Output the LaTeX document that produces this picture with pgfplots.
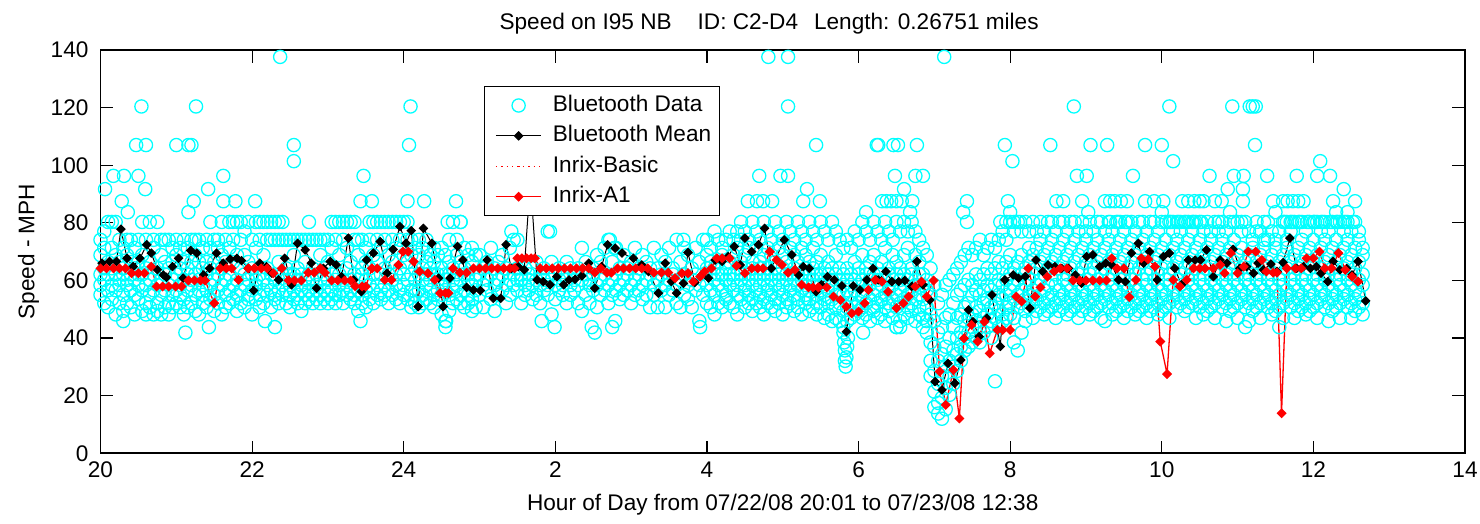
\documentclass[border=0pt]{standalone}
\usepackage{fontspec}
\setmainfont{Liberation Sans}
\usepackage{pgfplots}
\usepackage{pgfplotstable}
\pgfplotsset{compat=1.18}
\definecolor{btcyan}{RGB}{0,255,255}
\newcommand\ff{\fontsize{11.3}{13.5}\selectfont}

% Bluetooth travel-time speeds, evening 20-25 h
\pgfplotstableread{
t a b c d e
20.00 68.8 58.4 55.0 74.1 62.1
20.05 64.2 77.0 60.2 52.1 71.3
20.10 80.3 66.4 56.6 62.1 50.7
20.15 71.3 80.3 58.4 64.2 53.5
20.20 80.3 62.1 68.8 48.2 56.6
20.25 74.1 60.2 66.4 52.1 58.4
20.30 64.2 55.0 71.3 49.4 62.1
20.35 68.8 58.4 52.1 74.1 60.2
20.40 62.1 74.1 50.7 56.6 66.4
20.45 71.3 60.2 48.2 64.2 55.0
20.50 66.4 53.5 74.1 58.4 62.1
20.55 80.3 62.1 49.4 56.6 68.8
20.60 74.1 64.2 52.1 58.4 48.2
20.65 80.3 60.2 50.7 66.4 55.0
20.70 71.3 56.6 48.2 62.1 74.1
20.75 80.3 64.2 52.1 58.4 49.4
20.80 74.1 60.2 55.0 68.8 48.2
20.85 74.1 62.1 50.7 56.6 66.4
20.90 74.1 58.4 52.1 64.2 48.2
20.95 71.3 60.2 55.0 66.4 50.7
21.00 68.8 62.1 56.6 74.1 52.1
21.05 64.2 58.4 50.7 71.3 55.0
21.10 74.1 60.2 48.2 66.4 53.5
21.15 71.3 62.1 56.6 50.7 64.2
21.20 74.1 58.4 52.1 66.4 60.2
21.25 68.8 55.0 62.1 49.4 74.1
21.30 74.1 60.2 56.6 48.2 66.4
21.35 71.3 64.2 52.1 58.4 55.0
21.40 74.1 62.1 50.7 66.4 56.6
21.45 80.3 58.4 53.5 64.2 71.3
21.50 74.1 60.2 55.0 49.4 66.4
21.55 71.3 62.1 56.6 52.1 74.1
21.60 80.3 64.2 58.4 48.2 68.8
21.65 74.1 60.2 55.0 50.7 66.4
21.70 80.3 62.1 56.6 52.1 71.3
21.75 80.3 66.4 58.4 53.5 74.1
21.80 80.3 60.2 55.0 49.4 68.8
21.85 80.3 64.2 56.6 52.1 74.1
21.90 77.0 62.1 58.4 50.7 68.8
21.95 80.3 60.2 55.0 53.5 66.4
22.00 74.1 62.1 56.6 48.2 64.2
22.05 80.3 58.4 53.5 60.2 71.3
22.10 80.3 62.1 55.0 50.7 74.1
22.15 80.3 60.2 56.6 52.1 68.8
22.20 74.1 64.2 58.4 55.0 80.3
22.25 80.3 62.1 56.6 50.7 74.1
22.30 74.1 60.2 55.0 53.5 80.3
22.35 80.3 66.4 56.6 52.1 74.1
22.40 74.1 62.1 58.4 55.0 80.3
22.45 74.1 60.2 56.6 52.1 64.2
22.50 74.1 58.4 55.0 50.7 62.1
22.55 74.1 62.1 56.6 53.5 68.8
22.60 74.1 60.2 55.0 52.1 64.2
22.65 74.1 62.1 56.6 49.4 58.4
22.70 74.1 60.2 55.0 52.1 66.4
22.75 80.3 62.1 56.6 53.5 74.1
22.80 74.1 60.2 55.0 52.1 64.2
22.85 74.1 58.4 56.6 53.5 62.1
22.90 74.1 60.2 55.0 52.1 68.8
22.95 74.1 62.1 56.6 53.5 64.2
23.00 74.1 60.2 55.0 52.1 66.4
23.05 80.3 62.1 56.6 53.5 71.3
23.10 80.3 60.2 55.0 52.1 74.1
23.15 80.3 62.1 58.4 55.0 68.8
23.20 80.3 60.2 56.6 52.1 74.1
23.25 80.3 64.2 58.4 55.0 71.3
23.30 80.3 60.2 56.6 53.5 66.4
23.35 80.3 62.1 55.0 52.1 74.1
23.40 74.1 60.2 56.6 49.4 68.8
23.45 74.1 62.1 55.0 52.1 64.2
23.50 71.3 60.2 56.6 50.7 66.4
23.55 80.3 64.2 58.4 53.5 74.1
23.60 80.3 62.1 56.6 52.1 68.8
23.65 80.3 66.4 58.4 55.0 74.1
23.70 80.3 62.1 56.6 53.5 71.3
23.75 80.3 64.2 58.4 55.0 74.1
23.80 80.3 62.1 56.6 52.1 68.8
23.85 80.3 66.4 60.2 55.0 74.1
23.90 80.3 62.1 58.4 53.5 71.3
23.95 80.3 64.2 56.6 52.1 74.1
24.00 80.3 62.1 58.4 55.0 68.8
24.05 80.3 66.4 60.2 53.5 74.1
24.10 74.1 62.1 56.6 50.7 68.8
24.15 71.3 60.2 55.0 52.1 64.2
24.20 68.8 62.1 56.6 50.7 74.1
24.25 71.3 60.2 55.0 52.1 64.2
24.30 74.1 62.1 58.4 53.5 66.4
24.35 68.8 60.2 56.6 52.1 64.2
24.40 71.3 62.1 55.0 50.7 66.4
24.45 68.8 60.2 56.6 53.5 62.1
24.50 64.2 58.4 55.0 48.2 71.3
24.55 68.8 60.2 56.6 45.9 62.1
24.60 74.1 62.1 55.0 49.4 66.4
24.65 80.3 60.2 56.6 52.1 64.2
24.70 74.1 62.1 58.4 53.5 68.8
24.75 80.3 60.2 55.0 52.1 66.4
24.80 71.3 62.1 56.6 50.7 64.2
24.85 68.8 60.2 55.0 52.1 62.1
24.90 66.4 58.4 53.5 49.4 71.3
24.95 68.8 62.1 56.6 50.7 60.2
}\btA

% night 1-4 h, fewer readings
\pgfplotstableread{
t a b c
25.00 62.1 55.0 68.8
25.05 58.4 64.2 50.7
25.10 66.4 56.6 60.2
25.15 62.1 53.5 71.3
25.20 58.4 64.2 49.4
25.25 60.2 55.0 66.4
25.30 62.1 56.6 68.8
25.35 58.4 52.1 64.2
25.40 60.2 71.3 55.0
25.45 62.1 58.4 74.1
25.50 60.2 56.6 64.2
25.55 60.2 52.1 62.1
25.60 58.4 64.2 55.0
25.65 62.1 60.2 56.6
25.70 58.4 64.2 53.5
25.75 60.2 55.0 66.4
25.80 62.1 58.4 52.1
25.85 60.2 56.6 64.2
25.90 62.1 55.0 58.4
25.95 60.2 48.2 66.4
26.00 58.4 62.1 53.5
26.05 60.2 56.6 64.2
26.10 62.1 55.0 58.4
26.15 60.2 52.1 66.4
26.20 58.4 64.2 55.0
26.25 62.1 56.6 60.2
26.30 58.4 52.1 64.2
26.35 60.2 71.3 49.4
26.40 62.1 55.0 66.4
26.45 58.4 60.2 52.1
26.50 62.1 56.6 64.2
26.55 58.4 50.7 68.8
26.60 60.2 55.0 66.4
26.65 62.1 56.6 71.3
26.70 58.4 52.1 74.1
26.75 60.2 55.0 66.4
26.80 62.1 56.6 71.3
26.85 58.4 53.5 64.2
26.90 60.2 55.0 68.8
26.95 62.1 56.6 64.2
27.00 58.4 52.1 66.4
27.05 60.2 55.0 71.3
27.10 62.1 56.6 64.2
27.15 58.4 53.5 68.8
27.20 60.2 55.0 66.4
27.25 62.1 50.7 64.2
27.30 58.4 55.0 71.3
27.35 60.2 50.7 64.2
27.40 62.1 56.6 68.8
27.45 58.4 50.7 66.4
27.50 60.2 55.0 71.3
27.55 62.1 56.6 64.2
27.60 58.4 52.1 74.1
27.65 60.2 50.7 66.4
27.70 62.1 55.0 71.3
27.75 58.4 53.5 68.8
27.80 60.2 50.7 64.2
27.85 62.1 56.6 71.3
27.90 58.4 45.9 66.4
27.95 60.2 55.0 74.1
}\btB

% morning 4-12:40 h, dense
\pgfplotstableread{
t a b c d e f
28.00 74.1 64.2 58.4 52.1 68.8 nan
28.05 71.3 62.1 56.6 50.7 66.4 nan
28.10 77.0 60.2 55.0 64.2 48.2 nan
28.15 74.1 66.4 58.4 52.1 62.1 nan
28.20 71.3 62.1 56.6 50.7 68.8 nan
28.25 74.1 60.2 55.0 64.2 53.5 nan
28.30 77.0 66.4 58.4 52.1 62.1 nan
28.35 74.1 62.1 56.6 50.7 68.8 60.2
28.40 71.3 64.2 55.0 58.4 48.2 77.0
28.45 74.1 66.4 60.2 53.5 62.1 80.3
28.50 77.0 64.2 56.6 50.7 68.8 58.4
28.55 74.1 62.1 55.0 60.2 71.3 52.1
28.60 80.3 66.4 58.4 53.5 64.2 49.4
28.65 77.0 62.1 56.6 60.2 71.3 52.1
28.70 74.1 66.4 58.4 55.0 64.2 50.7
28.75 80.3 68.8 60.2 53.5 62.1 48.2
28.80 77.0 64.2 56.6 58.4 71.3 52.1
28.85 74.1 62.1 55.0 60.2 68.8 50.7
28.90 80.3 66.4 58.4 53.5 64.2 49.4
28.95 77.0 62.1 56.6 60.2 71.3 52.1
29.00 74.1 64.2 58.4 55.0 68.8 48.2
29.05 80.3 66.4 60.2 53.5 62.1 50.7
29.10 77.0 62.1 56.6 58.4 71.3 52.1
29.15 74.1 64.2 55.0 60.2 68.8 49.4
29.20 80.3 66.4 58.4 53.5 62.1 50.7
29.25 77.0 62.1 56.6 60.2 71.3 48.2
29.30 74.1 64.2 58.4 55.0 68.8 52.1
29.35 80.3 62.1 56.6 53.5 66.4 49.4
29.40 77.0 64.2 58.4 60.2 71.3 50.7
29.45 74.1 66.4 55.0 52.1 62.1 48.2
29.50 80.3 62.1 56.6 58.4 68.8 50.7
29.55 77.0 64.2 55.0 53.5 60.2 47.0
29.60 74.1 62.1 56.6 52.1 66.4 48.2
29.65 80.3 64.2 58.4 53.5 60.2 45.9
29.70 77.0 62.1 55.0 50.7 68.8 47.0
29.75 74.1 60.2 56.6 52.1 64.2 45.9
29.80 71.3 62.1 55.0 49.4 58.4 43.8
29.85 74.1 60.2 56.6 50.7 64.2 45.9
29.90 71.3 62.1 55.0 52.1 58.4 47.0
29.95 77.0 60.2 56.6 50.7 66.4 48.2
30.00 74.1 62.1 58.4 52.1 64.2 49.4
30.05 80.3 60.2 55.0 50.7 68.8 47.0
30.10 77.0 64.2 56.6 52.1 62.1 48.2
30.15 74.1 60.2 58.4 53.5 66.4 45.9
30.20 80.3 62.1 55.0 50.7 68.8 49.4
30.25 77.0 64.2 56.6 52.1 60.2 47.0
30.30 74.1 62.1 58.4 53.5 66.4 48.2
30.35 80.3 60.2 55.0 50.7 71.3 45.9
30.40 77.0 64.2 56.6 52.1 62.1 49.4
30.45 74.1 60.2 58.4 53.5 68.8 47.0
30.50 80.3 62.1 55.0 50.7 66.4 43.8
30.55 77.0 64.2 56.6 52.1 60.2 45.9
30.60 80.3 62.1 58.4 53.5 68.8 48.2
30.65 77.0 60.2 55.0 50.7 71.3 47.0
30.70 80.3 64.2 56.6 52.1 62.1 49.4
30.75 77.0 60.2 58.4 53.5 68.8 45.9
30.80 74.1 62.1 55.0 50.7 66.4 48.2
30.85 71.3 58.4 53.5 47.0 62.1 43.8
30.90 68.8 56.6 50.7 45.9 41.9 60.2
30.95 64.2 55.0 48.2 38.5 32.1 26.8
31.00 58.4 45.9 37.0 28.6 21.4 16.0
31.05 52.1 41.9 32.1 24.1 17.5 13.8
31.10 55.0 43.8 34.4 26.8 19.3 12.0
31.15 58.4 47.0 37.0 30.1 22.7 15.3
31.20 60.2 48.2 40.1 32.1 26.8 20.3
31.25 62.1 52.1 43.8 35.7 30.1 24.1
31.30 64.2 55.0 47.0 40.1 34.4 28.6
31.35 66.4 56.6 48.2 41.9 37.0 32.1
31.40 68.8 58.4 50.7 45.9 40.1 35.7
31.45 71.3 60.2 52.1 47.0 41.9 37.0
31.50 68.8 58.4 55.0 48.2 43.8 38.5
31.55 71.3 62.1 56.6 50.7 45.9 40.1
31.60 74.1 60.2 55.0 49.4 43.8 38.5
31.65 68.8 62.1 56.6 52.1 47.0 41.9
31.70 71.3 64.2 58.4 53.5 48.2 43.8
31.75 74.1 62.1 56.6 50.7 45.9 40.1
31.80 71.3 64.2 58.4 52.1 47.0 25.0
31.85 74.1 66.4 60.2 55.0 49.4 43.8
31.90 77.0 64.2 58.4 53.5 48.2 45.9
31.95 74.1 66.4 60.2 55.0 50.7 47.0
32.00 80.3 68.8 62.1 56.6 52.1 48.2
32.05 77.0 64.2 58.4 53.5 47.0 38.5
32.10 80.3 66.4 60.2 55.0 50.7 35.7
32.15 77.0 68.8 62.1 56.6 52.1 41.9
32.20 80.3 64.2 58.4 53.5 49.4 45.9
32.25 77.0 66.4 60.2 55.0 50.7 71.3
32.30 80.3 68.8 62.1 56.6 52.1 47.0
32.35 77.0 64.2 58.4 53.5 71.3 49.4
32.40 80.3 66.4 60.2 55.0 50.7 74.1
32.45 77.0 68.8 62.1 56.6 52.1 48.2
32.50 80.3 64.2 58.4 53.5 71.3 49.4
32.55 74.1 66.4 60.2 55.0 50.7 80.3
32.60 77.0 62.1 58.4 52.1 68.8 47.0
32.65 80.3 64.2 56.6 53.5 71.3 49.4
32.70 74.1 66.4 60.2 55.0 50.7 80.3
32.75 77.0 62.1 58.4 52.1 68.8 48.2
32.80 80.3 64.2 56.6 53.5 71.3 49.4
32.85 74.1 66.4 60.2 55.0 50.7 80.3
32.90 77.0 62.1 58.4 52.1 68.8 47.0
32.95 80.3 64.2 56.6 53.5 71.3 49.4
33.00 74.1 66.4 60.2 55.0 50.7 77.0
33.05 80.3 62.1 58.4 52.1 68.8 48.2
33.10 77.0 64.2 56.6 53.5 71.3 49.4
33.15 74.1 66.4 60.2 55.0 50.7 80.3
33.20 80.3 62.1 58.4 52.1 68.8 47.0
33.25 77.0 64.2 56.6 53.5 71.3 45.9
33.30 80.3 66.4 60.2 55.0 50.7 74.1
33.35 77.0 62.1 58.4 52.1 68.8 48.2
33.40 80.3 64.2 56.6 53.5 71.3 49.4
33.45 74.1 66.4 60.2 55.0 50.7 80.3
33.50 77.0 62.1 58.4 52.1 68.8 47.0
33.55 80.3 64.2 56.6 53.5 71.3 49.4
33.60 74.1 66.4 60.2 55.0 50.7 80.3
33.65 77.0 62.1 58.4 52.1 68.8 48.2
33.70 80.3 64.2 56.6 53.5 71.3 49.4
33.75 74.1 66.4 60.2 55.0 50.7 80.3
33.80 77.0 62.1 58.4 52.1 68.8 47.0
33.85 80.3 64.2 56.6 53.5 71.3 49.4
33.90 74.1 66.4 60.2 55.0 50.7 80.3
33.95 77.0 62.1 58.4 52.1 68.8 48.2
34.00 80.3 64.2 56.6 53.5 71.3 49.4
34.05 74.1 66.4 60.2 55.0 50.7 80.3
34.10 80.3 62.1 58.4 52.1 68.8 47.0
34.15 77.0 64.2 56.6 53.5 71.3 80.3
34.20 80.3 66.4 60.2 55.0 50.7 74.1
34.25 77.0 62.1 58.4 52.1 68.8 80.3
34.30 80.3 64.2 56.6 53.5 71.3 49.4
34.35 74.1 66.4 60.2 55.0 50.7 80.3
34.40 77.0 62.1 58.4 52.1 68.8 80.3
34.45 80.3 64.2 56.6 53.5 71.3 47.0
34.50 74.1 66.4 60.2 55.0 50.7 80.3
34.55 77.0 62.1 58.4 52.1 68.8 48.2
34.60 80.3 64.2 56.6 53.5 71.3 49.4
34.65 74.1 66.4 60.2 55.0 50.7 77.0
34.70 80.3 62.1 58.4 52.1 68.8 47.0
34.75 77.0 64.2 56.6 53.5 71.3 80.3
34.80 80.3 66.4 60.2 55.0 50.7 74.1
34.85 77.0 62.1 58.4 52.1 68.8 45.9
34.90 80.3 64.2 56.6 53.5 71.3 49.4
34.95 74.1 66.4 60.2 55.0 50.7 80.3
35.00 80.3 62.1 58.4 52.1 68.8 47.0
35.05 77.0 64.2 56.6 53.5 71.3 80.3
35.10 80.3 66.4 60.2 55.0 50.7 43.8
35.15 77.0 62.1 58.4 52.1 68.8 45.9
35.20 74.1 64.2 56.6 53.5 71.3 49.4
35.25 80.3 66.4 60.2 55.0 50.7 77.0
35.30 77.0 62.1 58.4 52.1 68.8 47.0
35.35 74.1 64.2 56.6 53.5 71.3 80.3
35.40 80.3 66.4 60.2 55.0 50.7 74.1
35.45 77.0 62.1 58.4 52.1 68.8 48.2
35.50 74.1 64.2 56.6 53.5 71.3 49.4
35.55 77.0 66.4 60.2 55.0 50.7 43.8
35.60 80.3 62.1 58.4 52.1 68.8 47.0
35.65 80.3 64.2 56.6 53.5 71.3 74.1
35.70 80.3 66.4 60.2 55.0 50.7 77.0
35.75 80.3 62.1 58.4 52.1 68.8 47.0
35.80 80.3 64.2 56.6 53.5 71.3 49.4
35.85 80.3 66.4 60.2 55.0 50.7 74.1
35.90 77.0 62.1 58.4 52.1 68.8 48.2
35.95 80.3 64.2 56.6 53.5 71.3 49.4
36.00 74.1 66.4 60.2 55.0 50.7 80.3
36.05 80.3 62.1 58.4 52.1 68.8 47.0
36.10 77.0 64.2 56.6 53.5 71.3 80.3
36.15 80.3 66.4 60.2 55.0 50.7 74.1
36.20 77.0 62.1 58.4 52.1 68.8 45.9
36.25 80.3 64.2 56.6 53.5 71.3 49.4
36.30 74.1 66.4 60.2 55.0 50.7 80.3
36.35 80.3 62.1 58.4 52.1 68.8 47.0
36.40 77.0 64.2 56.6 53.5 71.3 80.3
36.45 80.3 66.4 60.2 55.0 50.7 74.1
36.50 77.0 62.1 58.4 52.1 68.8 47.0
36.55 80.3 64.2 56.6 53.5 71.3 49.4
36.60 74.1 66.4 60.2 55.0 50.7 77.0
36.65 71.3 62.1 58.4 52.1 68.8 48.2
}\btC

\pgfplotsset{
  btdata/.style={only marks, mark=o, mark size=3.3pt, color=btcyan, line width=0.65pt},
  btmore/.style={btdata, forget plot},
}

\begin{document}
\begin{tikzpicture}
\begin{axis}[
  scale only axis,
  width=682.25pt, height=201.65pt,
  xmin=20, xmax=38, ymin=0, ymax=140,
  xtick={20,22,...,38},
  xticklabels={20,22,24,2,4,6,8,10,12,14},
  ytick={0,20,...,140},
  tick align=inside,
  tick pos=both,
  major tick length=6.3pt,
  axis line style={line width=0.8pt},
  tick style={line width=0.6pt, black},
  tick label style={font=\ff},
  /pgf/number format/assume math mode=true,
  yticklabel style={xshift=-2.5pt},
  xticklabel style={yshift=-0.6pt},
  xlabel={Hour of Day from 07/22/08 20:01 to 07/23/08 12:38},
  xlabel style={font=\ff, at={(axis description cs:0.5,-0.128)}, anchor=center},
  ylabel={Speed - MPH},
  ylabel style={font=\ff, at={(axis description cs:-0.0528,0.5)}, anchor=center},
  title={Speed on I95 NB\hspace{13pt}ID: C2-D4\hspace{8pt}Length: 0.26751 miles},
  title style={font=\ff, at={(axis description cs:0.49,1.0347)}, anchor=center},
  legend style={at={(axis description cs:0.281,0.911)}, anchor=north west,
    draw=black, fill=white, font=\ff, inner xsep=2pt, inner ysep=2pt,
    nodes={text height=8.6pt, text depth=2.6pt}},
  legend cell align=left,
  legend image code/.code={%
    \draw[mark repeat=2,mark phase=2,#1] plot coordinates {(0cm,0cm) (0.4cm,0cm) (0.8cm,0cm)};
    \path (-0.12cm,0cm) (0.92cm,0cm);},
]

\addplot[btdata] table[x=t,y=a]{\btA};
\addlegendentry{Bluetooth Data}
\addplot[btmore] table[x=t,y=b]{\btA};
\addplot[btmore] table[x=t,y=c]{\btA};
\addplot[btmore] table[x=t,y=d]{\btA};
\addplot[btmore] table[x=t,y=e]{\btA};
\addplot[btmore] table[x=t,y=a]{\btB};
\addplot[btmore] table[x=t,y=b]{\btB};
\addplot[btmore] table[x=t,y=c]{\btB};
\addplot[btmore] table[x=t,y=a]{\btC};
\addplot[btmore] table[x=t,y=b]{\btC};
\addplot[btmore] table[x=t,y=c]{\btC};
\addplot[btmore] table[x=t,y=d]{\btC};
\addplot[btmore] table[x=t,y=e]{\btC};
\addplot[btmore] table[x=t,y=f]{\btC};
% single readings away from the main band
\addplot[btmore] coordinates {
(20.06,91.7)(20.17,96.3)(20.28,87.5)(20.31,96.3)(20.36,83.7)(20.47,107.0)(20.50,96.3)(20.54,120.4)
(20.59,91.7)(20.60,107.0)(21.00,107.0)(21.16,107.0)(21.16,83.7)(21.20,107.0)(21.23,87.5)(21.26,120.4)
(21.42,91.7)(21.62,96.3)(21.62,87.5)(21.78,87.5)(22.04,87.5)(22.37,137.6)(22.55,107.0)(22.55,101.4)
(23.43,87.5)(23.47,96.3)(23.58,87.5)(24.05,87.5)(24.07,107.0)(24.09,120.4)(24.27,87.5)(24.69,87.5)
(20.30,45.9)(21.12,41.9)(21.43,43.8)(22.17,45.9)(22.30,43.8)(23.43,45.9)(24.55,43.8)(24.56,45.9)
(25.82,45.9)(25.99,43.8)(26.48,43.8)(26.52,41.9)(26.75,43.8)(26.79,45.9)(27.91,43.8)
(25.42,77.0)(25.50,74.1)(25.90,77.0)(25.93,77.0)(26.72,74.1)(26.78,71.3)(27.69,74.1)(24.58,80.3)(24.75,80.3)
(28.81,137.6)(29.07,137.6)(31.13,137.6)
(29.07,120.4)(32.84,120.4)(34.10,120.4)(34.93,120.4)(35.16,120.4)(35.20,120.4)(35.24,120.4)
(29.44,107.0)(30.24,107.0)(30.26,107.0)(30.46,107.0)(30.52,107.0)(30.77,107.0)(31.93,107.0)(32.53,107.0)
(33.06,107.0)(33.28,107.0)(33.78,107.0)(34.00,107.0)(35.23,107.0)
(32.03,101.4)(34.15,101.4)(36.09,101.4)
(28.69,96.3)(28.97,96.3)(29.07,96.3)(30.48,96.3)(30.75,96.3)(30.85,96.3)(32.88,96.3)(33.01,96.3)
(33.62,96.3)(34.63,96.3)(34.95,96.3)(35.08,96.3)(35.39,96.3)(35.78,96.3)(36.05,96.3)(36.22,96.3)
(29.32,91.7)(30.60,91.7)(34.87,91.7)(35.07,91.7)(36.40,91.7)
(28.54,87.5)(28.66,87.5)(28.74,87.5)(28.86,87.5)(29.27,87.5)(29.49,87.5)(30.31,87.5)(30.37,87.5)
(30.43,87.5)(30.50,87.5)(30.57,87.5)(30.71,87.5)(31.43,87.5)(31.97,87.5)(32.61,87.5)(32.70,87.5)
(32.95,87.5)(33.25,87.5)(33.32,87.5)(33.38,87.5)(33.46,87.5)(33.54,87.5)(33.78,87.5)(33.90,87.5)
(34.02,87.5)(34.27,87.5)(34.35,87.5)(34.43,87.5)(34.50,87.5)(34.55,87.5)(34.70,87.5)(34.79,87.5)
(35.07,87.5)(35.47,87.5)(35.60,87.5)(35.66,87.5)(35.73,87.5)(35.80,87.5)(35.87,87.5)(36.26,87.5)(36.55,87.5)
(30.10,83.7)(30.68,83.7)(31.38,83.7)(32.00,83.7)(33.03,83.7)(34.00,83.7)(34.90,83.7)(35.50,83.7)(36.30,83.7)(36.45,83.7)
(31.43,80.3)(31.87,80.3)(31.95,80.3)(32.05,80.3)(32.13,80.3)(33.32,80.3)(33.42,80.3)(33.52,80.3)
(34.12,80.3)(34.22,80.3)(34.32,80.3)(34.42,80.3)(34.52,80.3)(35.62,80.3)(35.72,80.3)(35.82,80.3)
(35.92,80.3)(36.02,80.3)(36.12,80.3)(36.22,80.3)(36.32,80.3)(36.42,80.3)(36.52,80.3)
(29.80,41.9)(29.81,38.5)(29.82,35.7)(29.82,32.1)(29.83,30.1)(29.84,33.3)(29.85,37.0)(29.86,40.1)
(30.06,41.9)(30.50,43.8)(30.55,43.8)
};

% Bluetooth mean
\addplot[black, line width=0.5pt, mark=square*, mark size=1.45pt, mark options={rotate=45}] coordinates {
(20.02,66.0)(20.12,66.6)(20.21,66.6)(20.27,77.8)(20.35,67.7)(20.43,64.8)(20.52,67.7)(20.61,72.4)
(20.67,69.5)(20.75,63.7)(20.83,61.9)(20.87,61.1)(20.95,64.8)(21.03,67.7)(21.09,60.8)(21.19,70.4)
(21.27,69.5)(21.36,61.9)(21.44,64.2)(21.53,69.5)(21.62,66.0)(21.71,67.4)(21.80,67.7)(21.86,66.9)
(21.95,64.2)(22.02,56.5)(22.10,66.0)(22.19,64.8)(22.26,62.5)(22.35,60.2)(22.43,67.7)(22.52,58.5)
(22.60,72.9)(22.70,70.6)(22.78,66.0)(22.85,57.3)(22.94,64.2)(23.03,66.6)(23.11,65.4)(23.18,61.3)
(23.27,74.7)(23.34,60.2)(23.44,56.1)(23.51,67.1)(23.60,69.5)(23.69,73.5)(23.78,62.5)(23.86,70.8)
(23.95,78.7)(24.03,72.9)(24.10,77.3)(24.19,50.9)(24.26,78.1)(24.37,72.9)(24.46,60.8)(24.52,50.9)
(24.61,60.8)(24.71,71.8)(24.78,67.1)(24.83,57.6)(24.92,56.7)(25.01,56.5)(25.10,67.1)(25.18,53.8)
(25.28,53.8)(25.35,72.4)(25.42,64.2)(25.51,64.8)(25.59,63.7)(25.67,95.0)(25.76,60.2)(25.84,59.6)
(25.93,58.5)(26.02,61.3)(26.11,58.5)(26.18,60.2)(26.26,60.4)(26.35,61.6)(26.44,66.0)(26.52,57.3)
(26.61,64.8)(26.69,72.4)(26.79,71.2)(26.88,69.5)(27.03,67.7)(27.14,65.4)(27.23,63.1)(27.36,55.6)
(27.45,66.0)(27.53,59.6)(27.60,55.6)(27.69,59.0)(27.75,69.7)(27.84,59.3)(27.93,61.9)(28.02,60.8)
(28.11,67.1)(28.20,66.6)(28.28,68.3)(28.36,71.8)(28.44,65.4)(28.50,74.7)(28.59,70.0)(28.68,72.4)
(28.76,78.1)(28.85,64.2)(29.02,74.1)(29.12,68.9)(29.21,61.9)(29.27,64.8)(29.35,64.2)(29.44,56.1)
(29.51,58.5)(29.59,61.3)(29.68,60.2)(29.78,58.1)(29.84,42.2)(29.93,58.1)(30.02,56.7)(30.11,60.2)
(30.19,64.2)(30.26,60.2)(30.36,63.1)(30.44,59.6)(30.53,59.6)(30.61,60.0)(30.70,57.9)(30.77,66.6)
(30.85,58.5)(30.94,53.2)(31.01,24.9)(31.10,22.0)(31.18,31.2)(31.27,24.3)(31.35,32.4)(31.45,49.8)
(31.51,45.7)(31.59,40.5)(31.69,46.9)(31.76,55.0)(31.87,37.1)(31.93,60.2)(32.04,61.9)(32.11,60.8)
(32.20,61.4)(32.26,50.4)(32.34,67.1)(32.43,63.1)(32.50,65.4)(32.59,64.8)(32.68,64.2)(32.77,64.2)
(32.86,61.9)(32.94,59.0)(33.01,68.3)(33.09,68.9)(33.18,64.8)(33.26,66.0)(33.34,65.4)(33.43,60.2)
(33.52,59.6)(33.60,69.5)(33.69,72.9)(33.76,66.0)(33.84,70.0)(33.94,60.2)(34.02,68.3)(34.10,69.5)
(34.17,64.2)(34.26,58.5)(34.35,67.1)(34.44,67.1)(34.51,67.1)(34.59,70.6)(34.68,61.3)(34.77,67.1)
(34.86,66.0)(34.94,70.8)(35.03,64.2)(35.12,64.8)(35.21,62.5)(35.27,66.0)(35.34,63.7)(35.44,65.7)
(35.52,63.1)(35.60,66.2)(35.69,74.7)(35.78,64.2)(35.87,64.8)(35.96,64.2)(36.04,64.8)(36.10,62.5)
(36.19,59.6)(36.26,66.6)(36.35,63.7)(36.44,64.2)(36.51,61.9)(36.59,66.6)(36.69,52.9)
};
\addlegendentry{Bluetooth Mean}

\addlegendimage{red, dotted, line width=0.7pt}
\addlegendentry{Inrix-Basic}

% Inrix-A1
\addplot[red, line width=0.65pt, mark=square*, mark size=1.45pt, mark options={rotate=45}] coordinates {
(20.00,64.2)(20.08,64.2)(20.17,64.2)(20.25,64.2)(20.33,64.2)(20.41,62.5)(20.50,62.5)(20.58,62.5)
(20.67,64.8)(20.74,57.9)(20.82,57.9)(20.90,57.9)(20.99,57.9)(21.07,57.9)(21.16,60.0)(21.24,60.0)
(21.32,60.0)(21.38,60.0)(21.50,52.1)(21.58,64.2)(21.66,64.2)(21.73,64.2)(21.82,60.2)(21.95,64.2)
(22.03,64.2)(22.12,64.2)(22.20,64.2)(22.28,62.5)(22.39,64.2)(22.48,60.0)(22.56,60.0)(22.65,60.0)
(22.74,62.7)(22.82,62.7)(22.90,64.2)(22.96,62.7)(23.05,60.0)(23.13,60.0)(23.22,60.0)(23.30,60.0)
(23.36,58.0)(23.45,57.9)(23.50,57.9)(23.58,64.2)(23.65,64.2)(23.75,60.2)(23.84,60.2)(23.93,65.4)
(23.99,70.0)(24.06,70.0)(24.13,66.6)(24.21,63.1)(24.32,62.5)(24.41,60.2)(24.48,55.6)(24.55,55.6)
(24.59,55.6)(24.65,64.2)(24.74,62.7)(24.83,62.7)(24.92,64.2)(25.00,64.2)(25.08,64.2)(25.16,64.2)
(25.24,64.2)(25.32,64.2)(25.40,64.2)(25.46,64.2)(25.50,67.7)(25.56,67.7)(25.62,67.7)(25.68,67.7)
(25.73,67.7)(25.80,64.2)(25.88,64.2)(25.96,64.2)(26.04,64.2)(26.12,64.2)(26.20,64.2)(26.28,64.2)
(26.36,64.2)(26.44,64.2)(26.52,62.7)(26.60,64.2)(26.68,62.7)(26.74,62.7)(26.82,64.2)(26.90,64.2)
(26.98,64.2)(27.06,64.2)(27.14,64.2)(27.22,64.2)(27.30,62.7)(27.40,62.7)(27.49,62.7)(27.58,60.8)
(27.67,62.5)(27.75,62.5)(27.82,59.6)(27.91,61.3)(27.97,63.1)(28.06,64.2)(28.13,67.7)(28.20,67.7)
(28.30,67.7)(28.39,65.1)(28.50,62.5)(28.59,64.2)(28.67,64.2)(28.74,64.2)(28.83,70.0)(28.92,67.1)
(28.99,65.4)(29.07,62.7)(29.16,63.7)(29.25,58.5)(29.34,57.6)(29.40,57.6)(29.47,57.6)(29.58,57.6)
(29.67,54.4)(29.76,53.2)(29.84,50.9)(29.91,48.6)(30.00,49.2)(30.08,52.1)(30.13,56.7)(30.22,60.2)
(30.31,59.6)(30.39,56.1)(30.50,50.4)(30.59,52.1)(30.66,54.4)(30.75,57.9)(30.83,59.6)(30.90,54.4)
(30.99,60.0)(31.07,28.4)(31.15,16.8)(31.25,28.9)(31.33,12.1)(31.39,39.9)(31.49,44.6)(31.57,38.8)
(31.66,45.7)(31.73,34.7)(31.83,42.8)(31.90,42.8)(32.00,42.8)(32.08,54.4)(32.15,52.7)(32.24,64.2)
(32.33,54.4)(32.40,57.6)(32.49,61.3)(32.58,63.1)(32.66,64.2)(32.75,64.2)(32.83,60.0)(32.92,60.0)
(33.00,60.0)(33.09,60.0)(33.18,60.0)(33.27,60.0)(33.34,67.7)(33.41,64.2)(33.50,64.2)(33.57,54.2)
(33.66,60.2)(33.73,67.7)(33.82,67.4)(33.91,64.8)(33.98,38.8)(34.07,27.5)(34.15,60.2)(34.24,57.9)
(34.33,60.2)(34.42,64.2)(34.50,64.2)(34.57,64.2)(34.68,64.2)(34.77,65.4)(34.83,62.5)(34.91,69.5)
(35.00,62.5)(35.08,64.8)(35.14,70.0)(35.24,70.0)(35.32,67.1)(35.38,63.1)(35.47,62.7)(35.52,62.7)
(35.58,13.9)(35.65,64.2)(35.76,64.2)(35.84,64.2)(35.91,67.7)(36.00,67.7)(36.08,70.0)(36.15,64.2)
(36.24,64.2)(36.33,69.5)(36.42,63.7)(36.51,61.3)(36.59,59.6)
};
\addlegendentry{Inrix-A1}

\end{axis}
\pgfresetboundingbox
\path (-50.25pt,-35.35pt) rectangle (689.75pt,226.65pt);
\end{tikzpicture}
\end{document}
